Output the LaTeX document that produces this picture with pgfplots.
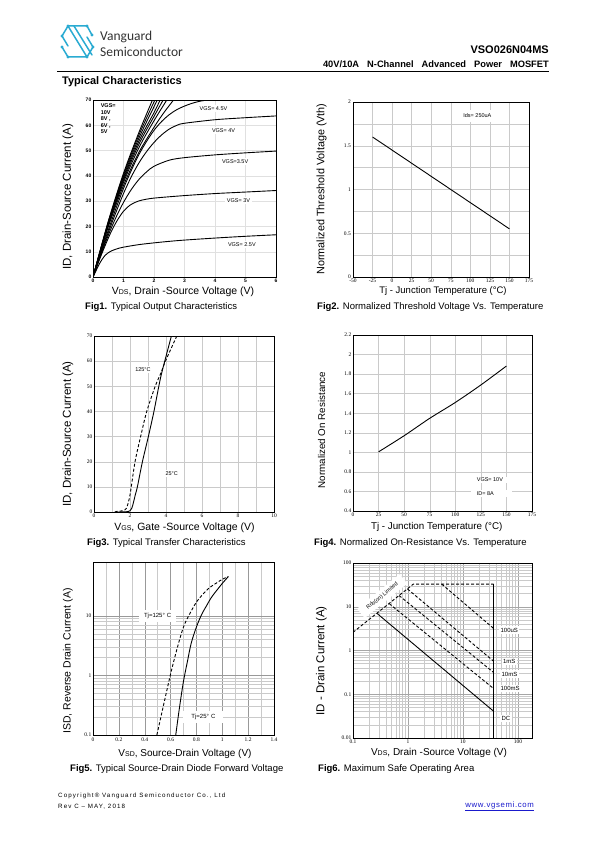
\documentclass[border=0pt]{standalone}
\usepackage{pgfplots}
\pgfplotsset{compat=1.18}
\usepackage{fontspec}
\setmainfont{Liberation Sans}
\newfontfamily\tickserif{Liberation Serif}
\newfontfamily\footfont[LetterSpace=18]{Liberation Sans}
\newfontfamily\linkfont[LetterSpace=8]{Liberation Sans}
\newfontfamily\logofont{Carlito}
\definecolor{logoblue}{HTML}{2AABD2}
\definecolor{gridc}{HTML}{CACACA}
\definecolor{linkblue}{HTML}{1A1ACC}
\newcommand\fs[1]{\fontsize{#1}{#1}\selectfont}
\newcommand\sub[1]{{\fontsize{7}{7}\selectfont #1}}
\pgfplotsset{
  ds/.style={scale only axis, anchor=south west,
    axis line style={line width=0.8pt},
    major tick length=0pt, minor tick length=0pt,
    grid style={gridc, line width=0.4pt},
    /pgf/number format/assume math mode=true,
    ticklabel style={font=\fontsize{5.5}{6}\tickserif\selectfont, inner sep=1.5pt},
    cycle list={{black, no markers, solid, line width=0.9pt}},
    every axis plot/.append style={line width=0.9pt, black, no markers}},
}
\tikzset{lbl/.style={fill=white, inner sep=1.5pt, font=\fontsize{5.5}{6}\selectfont}}
\begin{document}
\begin{tikzpicture}
\useasboundingbox (0pt,0pt) rectangle (595pt,-842pt);
\fill[white] (0pt,0pt) rectangle (595pt,-842pt);

% ---------- header ----------
\begin{scope}[x=1pt,y=-1pt,logoblue,line width=1.5pt,line join=round,line cap=round]
\draw (92,35)--(87,26)--(68,26)--(62,36)--(68,46);
\draw (68,26)--(87,57);
\draw (74,26)--(92,55);
\draw (62,47)--(68,57)--(87,57)--(93,47)--(87,37);
\foreach \p in {(68,26),(87,26),(92,35),(62,36),(62,47),(68,57),(87,57),(93,47)} \fill \p circle (1.6pt);
\end{scope}
\node[anchor=west,inner sep=0pt,text=black!80] at (100pt,-37pt) {\logofont\fs{13.5}Vanguard};
\node[anchor=west,inner sep=0pt,text=black!80] at (100pt,-52pt) {\logofont\fs{13.5}Semiconductor};
\node[anchor=east,inner sep=0pt] at (549pt,-50pt) {\bfseries\fs{11}VSO026N04MS};
\node[anchor=east,inner sep=0pt] at (549pt,-64.5pt) {\bfseries\fs{9.3}\spaceskip=8pt 40V/10A N-Channel Advanced Power MOSFET};
\draw[line width=0.9pt] (57pt,-71pt) -- (549pt,-71pt);
\node[anchor=west,inner sep=0pt] at (62pt,-82pt) {\bfseries\fs{11}Typical Characteristics};

% ---------- Fig 1 ----------
\begin{axis}[ds, at={(93pt,-277pt)}, width=183pt, height=177pt,
  xmin=0, xmax=6, ymin=0, ymax=70, xtick={0,...,6}, ytick={0,10,...,70},
  grid=major, grid style={black!12},
  ticklabel style={font=\fontsize{5}{6}\bfseries\selectfont}]
\addplot[smooth] coordinates {(0,0)(0.1,2.5)(0.2,5)(0.3,7)(0.4,8.6)(0.5,9.6)(0.6,10.3)(0.8,11.2)(1,11.8)(1.5,12.8)(2,13.5)(2.5,14.1)(3,14.6)(4,15.4)(5,16.1)(6,16.7)};
\addplot[smooth] coordinates {(0,0)(0.2,6.5)(0.4,12.5)(0.6,18)(0.8,22.5)(1,26)(1.2,28.3)(1.4,29.6)(1.6,30.4)(2,31.2)(3,32.2)(4,33)(5,33.6)(6,34.2)};
\addplot[smooth] coordinates {(0,0)(0.25,8.5)(0.5,16.5)(0.75,23.5)(1,29.5)(1.25,34.5)(1.5,38.5)(1.75,41.5)(2,43.8)(2.5,46.2)(3,47.2)(4,48.3)(5,49.1)(6,49.8)};
\addplot[smooth] coordinates {(0,0)(0.25,9)(0.5,17.5)(0.75,25.5)(1,33)(1.25,39.5)(1.5,45)(1.75,49.5)(2,53.2)(2.25,56.2)(2.5,58.5)(2.75,60)(3,60.8)(4,62.2)(5,63)(6,63.7)};
\addplot[smooth] coordinates {(0,0)(0.25,9.5)(0.5,18.5)(0.75,27)(1,35)(1.25,42)(1.5,48.3)(1.75,53.5)(2,58)(2.25,61.5)(2.5,64.2)(2.75,66.2)(3,67.6)(3.25,68.7)(3.5,69.5)(3.75,70)};
\addplot[smooth] coordinates {(0,0)(0.5,19.8)(1,36.2)(1.5,49.2)(2,59.2)(2.3,64.6)(2.64,70)};
\addplot[smooth] coordinates {(0,0)(0.5,20.4)(1,37.4)(1.5,51)(2,61.8)(2.42,70)};
\addplot[smooth] coordinates {(0,0)(0.5,20.8)(1,38.2)(1.5,52.4)(2,63.5)(2.3,70)};
\addplot[smooth] coordinates {(0,0)(0.5,21.1)(1,38.9)(1.5,53.6)(2,65)(2.2,70)};
\addplot[smooth] coordinates {(0,0)(0.5,21.4)(1,39.6)(1.5,54.8)(2.11,70)};
\addplot[smooth] coordinates {(0,0)(0.5,21.7)(1,40.3)(1.5,56)(2.03,70)};
\addplot[smooth] coordinates {(0,0)(0.5,22)(1,41)(1.5,57)(1.95,70)};
\node[lbl] at (axis cs:3.95,66.7) {VGS= 4.5V};
\node[lbl] at (axis cs:4.28,57.9) {VGS= 4V};
\node[lbl] at (axis cs:4.66,45.6) {VGS=3.5V};
\node[lbl] at (axis cs:4.77,30.4) {VGS= 3V};
\node[lbl] at (axis cs:4.88,12.8) {VGS= 2.5V};
\node[anchor=north west, align=left, inner sep=0pt, font=\fontsize{5.5}{6.6}\bfseries\selectfont] at (axis cs:0.25,68.6) {VGS=\\10V\\8V ,\\6V ,\\5V};
\end{axis}
\node[rotate=90] at (68pt,-197pt) {\fs{11.5}ID, Drain-Source Current (A)};
\node at (183pt,-291.5pt) {\fs{10.5}V\sub{DS}, Drain -Source Voltage (V)};
\node[anchor=west,inner sep=0pt] at (85pt,-307.5pt) {\fs{9.5}\textbf{Fig1.} Typical Output Characteristics};

% ---------- Fig 2 ----------
\begin{axis}[ds, at={(353pt,-277pt)}, width=176pt, height=175pt,
  xmin=-50, xmax=175, ymin=0, ymax=2,
  xtick={-50,-25,...,175}, ytick={0,0.5,1,1.5,2}, minor ytick={0.25,0.75,1.25,1.75},
  xticklabel style={yshift=-0.5pt}, yticklabel style={xshift=-0.5pt},
  grid=both, minor grid style={gridc, line width=0.4pt}]
\addplot coordinates {(-25,1.6)(150,0.55)};
\node[lbl, inner xsep=7pt, inner ysep=4pt] at (axis cs:109,1.842) {Ids= 250uA};
\end{axis}
\node[rotate=90] at (321.5pt,-189pt) {\fs{10.8}Normalized Threshold Voltage (Vth)};
\node at (443pt,-291.5pt) {\fs{9.5}Tj - Junction Temperature (°C)};
\node[anchor=west,inner sep=0pt] at (317pt,-307.5pt) {\fs{9.5}\textbf{Fig2.} Normalized Threshold Voltage Vs. Temperature};

% ---------- Fig 3 ----------
\begin{axis}[ds, at={(94pt,-512pt)}, width=180pt, height=176pt,
  xmin=0, xmax=10, ymin=0, ymax=70,
  xtick={0,2,...,10}, minor xtick={1,3,...,9}, ytick={0,10,...,70},
  grid=both, minor grid style={gridc, line width=0.4pt}]
\addplot[smooth] coordinates {(1.2,0)(1.8,0.1)(2.0,0.5)(2.1,1.5)(2.2,4)(2.3,7)(2.41,10)(2.69,20)(3.02,30)(3.33,40)(3.6,50)(3.75,55)(3.93,60)(4.3,70)};
\addplot[smooth, dash pattern=on 3pt off 2pt] coordinates {(1.15,0)(1.3,0.3)(1.6,0.5)(1.8,1.5)(1.95,5)(2.05,9)(2.28,20)(2.59,30)(2.93,40)(3.4,50)(3.7,55)(3.97,60)(4.6,70)};
\node[lbl, inner xsep=3pt] at (axis cs:2.72,56.7) {125°C};
\node[lbl, inner xsep=3pt] at (axis cs:4.32,15.4) {25°C};
\end{axis}
\node[rotate=90] at (68pt,-434pt) {\fs{11.5}ID, Drain-Source Current (A)};
\node at (184.5pt,-527.3pt) {\fs{10.5}V\sub{GS}, Gate -Source Voltage (V)};
\node[anchor=west,inner sep=0pt] at (87pt,-543pt) {\fs{9.5}\textbf{Fig3.} Typical Transfer Characteristics};

% ---------- Fig 4 ----------
\begin{axis}[ds, at={(353pt,-511pt)}, width=179pt, height=176pt,
  xmin=0, xmax=175, ymin=0.4, ymax=2.2,
  xtick={0,25,...,175}, ytick={0.4,0.6,0.8,1,1.2,1.4,1.6,1.8,2,2.2},
  yticklabels={0.4,0.6,0.8,1,1.2,1.4,1.6,1.8,2,2.2},
  grid=major]
\addplot[smooth] coordinates {(25,1.005)(50,1.17)(75,1.348)(100,1.51)(125,1.689)(150,1.883)};
\node[lbl, anchor=west, inner xsep=6pt] at (axis cs:115,0.717) {VGS= 10V};
\node[lbl, anchor=west, inner xsep=6pt] at (axis cs:115,0.58) {ID= 8A\phantom{0000}};
\end{axis}
\node[rotate=90] at (321.5pt,-430pt) {\fs{9.8}Normalized On Resistance};
\node at (436.7pt,-526.7pt) {\fs{9.8}Tj - Junction Temperature (°C)};
\node[anchor=west,inner sep=0pt] at (314pt,-543pt) {\fs{9.5}\textbf{Fig4.} Normalized On-Resistance Vs. Temperature};

% ---------- Fig 5 ----------
\begin{axis}[ds, at={(93pt,-735pt)}, width=181pt, height=173pt,
  ymode=log, xmin=0, xmax=1.4, ymin=0.1, ymax=80,
  xtick={0,0.2,0.4,0.6,0.8,1,1.2,1.4}, xticklabels={0,0.2,0.4,0.6,0.8,1,1.2,1.4},
  minor xtick={0.1,0.3,0.5,0.7,0.9,1.1,1.3},
  ytick={0.1,1,10}, yticklabels={0.1,1,10},
  xticklabel style={yshift=-1.5pt},
  grid=both, major grid style={black!40, line width=0.4pt}, minor grid style={gridc, line width=0.4pt}]
\addplot[smooth, dash pattern=on 3pt off 2pt] coordinates {(0.494,0.1)(0.55,0.35)(0.6,1.05)(0.65,2.8)(0.7,6.5)(0.75,11)(0.8,17)(0.85,23)(0.9,29.5)(0.95,35)(1.0,41)(1.047,45.6)};
\addplot[smooth] coordinates {(0.64,0.1)(0.67,0.3)(0.7,0.8)(0.73,1.7)(0.76,3.5)(0.8,6.5)(0.84,10.5)(0.88,15)(0.91,19.5)(0.94,24)(0.97,29)(1.0,35)(1.047,45.6)};
\node[lbl, font=\fontsize{6}{7}\selectfont, inner xsep=5pt, inner ysep=3pt] at (axis cs:0.5,10) {Tj=125°\,\,C};
\node[lbl, font=\fontsize{6}{7}\selectfont, inner xsep=8pt, inner ysep=3pt] at (axis cs:0.854,0.2) {Tj=25°\,\,C};
\end{axis}
\node[rotate=90] at (68pt,-661pt) {\fs{10.5}ISD, Reverse Drain Current (A)};
\node at (185pt,-754pt) {\fs{10}V\sub{SD}, Source-Drain Voltage (V)};
\node[anchor=west,inner sep=0pt] at (70pt,-769.5pt) {\fs{9.5}\textbf{Fig5.} Typical Source-Drain Diode Forward Voltage};

% ---------- Fig 6 ----------
\begin{axis}[ds, at={(353pt,-738pt)}, width=179pt, height=175pt,
  xmode=log, ymode=log, xmin=0.1, xmax=180, ymin=0.01, ymax=100,
  xtick={0.1,1,10,100}, xticklabels={0.1,1,10,100},
  ytick={0.01,0.1,1,10,100}, yticklabels={0.01,0.1,1,10,100},
  xticklabel style={yshift=-0.5pt},
  grid=both, major grid style={black!35, line width=0.4pt}, minor grid style={gridc, line width=0.4pt}]
\addplot[dash pattern=on 3pt off 2pt] coordinates {(0.1,2.6)(1.25,33)(36,33)};
\addplot[solid] coordinates {(36,33)(36,0.01)};
\addplot[dash pattern=on 3pt off 2pt] coordinates {(4.1,33)(36,3.2)};
\addplot[dash pattern=on 3pt off 2pt] coordinates {(0.98,25.5)(36,0.57)};
\addplot[dash pattern=on 3pt off 2pt] coordinates {(0.69,18)(36,0.315)};
\addplot[dash pattern=on 3pt off 2pt] coordinates {(0.455,11.8)(36,0.135)};
\addplot[solid] coordinates {(0.275,7)(36,0.041)};
\node[lbl, rotate=39, inner xsep=8pt, inner ysep=3.5pt] at (axis cs:0.34,17.5) {Rds(on) Limited};
\node[lbl, anchor=west, font=\fontsize{6}{7}\selectfont] at (axis cs:45,2.95) {100uS};
\node[lbl, anchor=west, font=\fontsize{6}{7}\selectfont] at (axis cs:50,0.556) {1mS};
\node[lbl, anchor=west, font=\fontsize{6}{7}\selectfont] at (axis cs:47,0.289) {10mS};
\node[lbl, anchor=west, font=\fontsize{6}{7}\selectfont] at (axis cs:45,0.135) {100mS};
\node[lbl, anchor=west, font=\fontsize{6}{7}\selectfont] at (axis cs:47,0.028) {DC};
\end{axis}
\node[rotate=90] at (321.5pt,-661pt) {\fs{11.5}ID - Drain Current (A)};
\node at (439pt,-753pt) {\fs{10}V\sub{DS}, Drain -Source Voltage (V)};
\node[anchor=west,inner sep=0pt] at (318pt,-769pt) {\fs{9.5}\textbf{Fig6.} Maximum Safe Operating Area};

% ---------- footer ----------
\node[anchor=west,inner sep=0pt] at (58pt,-796pt) {\footfont\fs{6.2}Copyright® Vanguard Semiconductor Co., Ltd};
\node[anchor=west,inner sep=0pt] at (58pt,-806.5pt) {\footfont\fs{6.2}Rev C \textendash{} MAY, 2018};
\node[anchor=east,inner sep=0pt,text=linkblue] at (534pt,-806.5pt) {\linkfont\fs{7.8}\underline{www.vgsemi.com}};
\end{tikzpicture}
\end{document}
